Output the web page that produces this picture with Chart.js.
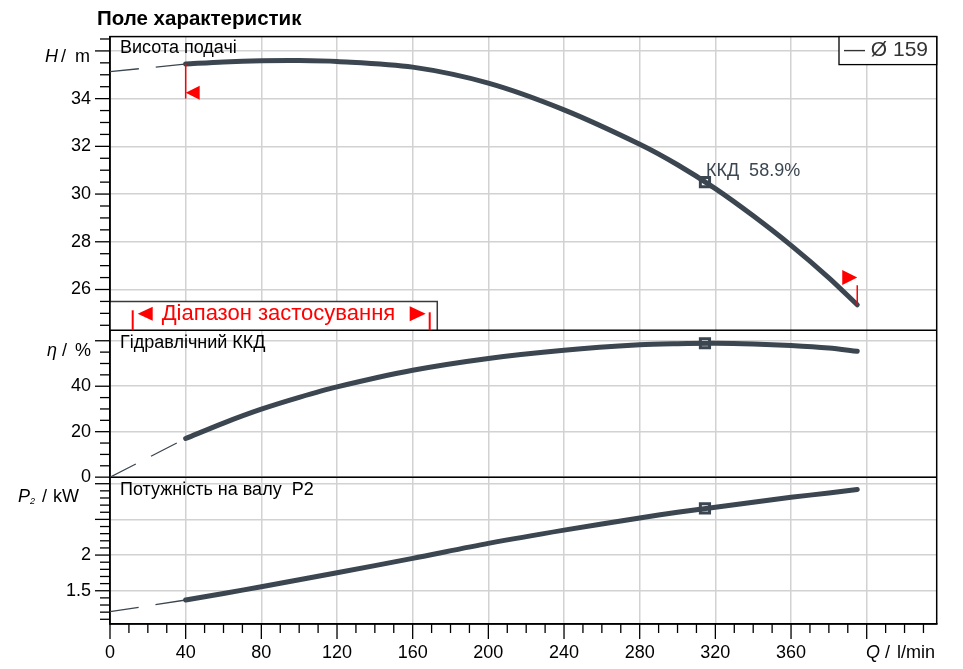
<!DOCTYPE html>
<html><head><meta charset="utf-8">
<script src="https://cdn.jsdelivr.net/npm/chart.js@4.4.1/dist/chart.umd.min.js"></script>
<style>html,body{margin:0;padding:0;background:#fff;}#wrap{width:963px;height:669px;position:relative}canvas{display:block}</style>
</head><body><div id="wrap"><canvas id="c" width="963" height="669"></canvas></div>
<script>
// ---- data ----
const flowQ   = [40, 60, 80, 100, 120, 160, 200, 240, 280, 300, 320, 340, 360, 380, 395];
const headH   = [35.45, 35.54, 35.59, 35.60, 35.56, 35.32, 34.65, 33.53, 32.09, 31.23, 30.23, 29.09, 27.85, 26.49, 25.36];
const effEta  = [17.0, 23.8, 29.9, 35.1, 39.7, 47.0, 52.2, 55.8, 58.2, 58.7, 58.9, 58.6, 57.9, 56.8, 55.4];
const powerP2 = [1.37, 1.462, 1.556, 1.654, 1.752, 1.954, 2.164, 2.35, 2.52, 2.60, 2.671, 2.74, 2.81, 2.87, 2.92];
const extQ    = [0, 40];
const extH    = [35.13, 35.45];
const extEta  = [0, 17.0];
const extP2   = [1.206, 1.37];
const bepQ = [314.5];
const bepH = [30.5];
const bepEta = [58.9];
const bepP2 = [2.654];
const bepLabel = 'ККД  58.9%';
const xTickValues = [0, 40, 80, 120, 160, 200, 240, 280, 320, 360, 400];
const xTickLabels = ['0', '40', '80', '120', '160', '200', '240', '280', '320', '360', ''];
const hTickValues = [26, 28, 30, 32, 34, 36];
const hTickLabels = ['26', '28', '30', '32', '34', ''];
const etaTickValues = [0, 20, 40, 60];
const etaTickLabels = ['0', '20', '40', ''];
const p2TickValues = [1.5, 2, 2.5, 3];
const p2TickLabels = ['1.5', '2', '', ''];
const rangeQ = [12, 169];        // application range markers (l/min)
const rangeBox = [173, 25.5];    // band box right edge (Q) and top (H)
const opMinQ = 40, opMaxQ = 395;
const legendText = '— Ø 159';
const panelTitles = ['Висота подачі', 'Гідравлічний ККД', 'Потужність на валу  P2'];
const rangeText = 'Діапазон застосування';

const FONT = '"Liberation Sans", Arial, sans-serif';
const CURVE = '#3b4651';
const GRID = '#d2d2d2';

function pts(xs, ys){ return xs.map((x,i)=>({x:x, y:ys[i]})); }

function yAxis(min, max, vals, labels, weight, stackWeight){
  return {
    type:'linear', position:'left', stack:'panels', stackWeight:stackWeight, weight:weight,
    min:min, max:max,
    afterBuildTicks:(s)=>{ s.ticks = vals.map(v=>({value:v})); },
    afterFit:(s)=>{ s.width = 110; },
    ticks:{ padding:19, color:'#000', font:{family:FONT, size:18},
      callback:(v)=>{ const i = vals.findIndex(t=>Math.abs(t-v)<1e-6); return i>=0 ? labels[i] : ''; } },
    grid:{ color:GRID, lineWidth:1.5, drawTicks:false },
    border:{ display:true, color:'#000', width:1.5 }
  };
}

function line(ctx,x1,y1,x2,y2){ ctx.beginPath(); ctx.moveTo(x1,y1); ctx.lineTo(x2,y2); ctx.stroke(); }

const deco = {
  id:'deco',
  beforeDatasetsDraw(chart){
    const ctx = chart.ctx, a = chart.chartArea;
    const sx = chart.scales.x, sh = chart.scales.yH, se = chart.scales.yEta, sp = chart.scales.yP;
    ctx.save();
    const bx1 = sx.getPixelForValue(0), bx2 = sx.getPixelForValue(rangeBox[0]);
    const by1 = sh.getPixelForValue(rangeBox[1]), by2 = sh.bottom;
    ctx.fillStyle = '#fff'; ctx.fillRect(bx1, by1, bx2-bx1, by2-by1);
    ctx.strokeStyle = '#3a3a3a'; ctx.lineWidth = 1.5;
    ctx.beginPath(); ctx.moveTo(bx1,by1); ctx.lineTo(bx2,by1); ctx.lineTo(bx2,by2); ctx.stroke();
    ctx.strokeStyle = '#000'; ctx.lineWidth = 1.5;
    ctx.strokeRect(a.left, a.top, a.right-a.left, a.bottom-a.top);
    line(ctx, a.left, sh.bottom, a.right, sh.bottom);
    line(ctx, a.left, se.bottom, a.right, se.bottom);
    ctx.lineWidth = 1.3;
    const yt = (scale, from, n, step, majors) => {
      for (let i=0;i<=n;i++){
        const v = from + i*step; const y = scale.getPixelForValue(v);
        if (y < scale.top-0.5 || y > scale.bottom+0.5) continue;
        const maj = majors.some(m=>Math.abs(m-v)<1e-6);
        line(ctx, a.left-(maj?15:10), y, a.left, y);
      }
    };
    yt(sh, 24.5, 24, 0.5, hTickValues);
    yt(se, 0, 12, 5, etaTickValues);
    yt(sp, 1.1, 19, 0.1, p2TickValues);
    for (let i=0;i<=43;i++){
      const v = i*10; const x = sx.getPixelForValue(v);
      const maj = xTickValues.includes(v);
      line(ctx, x, a.bottom, x, a.bottom+(maj?15:9));
    }
    ctx.restore();
  },
  afterDatasetsDraw(chart){
    const ctx = chart.ctx, a = chart.chartArea;
    const sx = chart.scales.x, sh = chart.scales.yH, se = chart.scales.yEta, sp = chart.scales.yP;
    ctx.save();
    ctx.strokeStyle = '#ff0000'; ctx.fillStyle = '#ff0000'; ctx.lineWidth = 1.5;
    const xl = sx.getPixelForValue(opMinQ);
    line(ctx, xl, sh.getPixelForValue(headH[0]), xl, sh.getPixelForValue(34));
    let ty = sh.getPixelForValue(34.25);
    ctx.beginPath(); ctx.moveTo(xl, ty); ctx.lineTo(xl+14, ty-7); ctx.lineTo(xl+14, ty+7); ctx.closePath(); ctx.fill();
    const xr = sx.getPixelForValue(opMaxQ);
    line(ctx, xr, sh.getPixelForValue(headH[headH.length-1]), xr, sh.getPixelForValue(26.18));
    ty = sh.getPixelForValue(26.5);
    ctx.beginPath(); ctx.moveTo(xr, ty); ctx.lineTo(xr-15, ty-7.5); ctx.lineTo(xr-15, ty+7.5); ctx.closePath(); ctx.fill();
    const r1 = sx.getPixelForValue(rangeQ[0]), r2 = sx.getPixelForValue(rangeQ[1]);
    const bandBottom = sh.bottom;
    ctx.lineWidth = 2;
    line(ctx, r1, bandBottom-20, r1, bandBottom);
    line(ctx, r2, bandBottom-18, r2, bandBottom);
    const my = bandBottom - 16.5;
    ctx.beginPath(); ctx.moveTo(r1+5, my); ctx.lineTo(r1+20, my-7); ctx.lineTo(r1+20, my+7); ctx.closePath(); ctx.fill();
    ctx.beginPath(); ctx.moveTo(r2-4, my); ctx.lineTo(r2-20, my-7.5); ctx.lineTo(r2-20, my+7.5); ctx.closePath(); ctx.fill();
    ctx.font = '22px ' + FONT; ctx.textBaseline = 'middle'; ctx.textAlign = 'left';
    ctx.fillText(rangeText, r1+29, my+0.5);
    ctx.fillStyle = '#000'; ctx.font = '18px ' + FONT;
    ctx.fillText(panelTitles[0], a.left+10, sh.top+11.5);
    ctx.fillText(panelTitles[1], a.left+10, se.top+13);
    ctx.fillText(panelTitles[2], a.left+10, sp.top+13);
    ctx.fillStyle = CURVE;
    ctx.fillText(bepLabel, sx.getPixelForValue(bepQ[0])+1, sh.getPixelForValue(bepH[0])-11.5);
    ctx.fillStyle = '#fff'; ctx.fillRect(839, a.top, a.right-839, 28);
    ctx.strokeStyle = '#000'; ctx.lineWidth = 1.3; ctx.strokeRect(839, a.top, a.right-839, 28);
    ctx.fillStyle = '#333'; ctx.font = '21px ' + FONT;
    ctx.fillText(legendText, 844, a.top+14);
    ctx.fillStyle = '#000'; ctx.font = 'bold 20.5px ' + FONT;
    ctx.fillText('Поле характеристик', 97, 19);
    const it = 'italic 18px ' + FONT, nf = '18px ' + FONT;
    const yH = sh.top + 20.5;
    ctx.font = it; ctx.fillText('H', 45, yH);
    ctx.font = nf; ctx.fillText('/', 61, yH); ctx.fillText('m', 75, yH);
    const yE = se.top + 21;
    ctx.font = it; ctx.fillText('η', 47, yE);
    ctx.font = nf; ctx.fillText('/', 62, yE); ctx.fillText('%', 75, yE);
    const yP = sp.top + 20;
    ctx.font = it; ctx.fillText('P', 18, yP);
    ctx.font = 'italic 9px ' + FONT; ctx.fillText('2', 30, yP+4);
    ctx.font = nf; ctx.fillText('/', 42, yP); ctx.fillText('kW', 53, yP);
    const yQ = a.bottom + 29;
    ctx.font = it; ctx.fillText('Q', 866, yQ);
    ctx.font = nf; ctx.fillText('/', 885, yQ); ctx.fillText('l/min', 897, yQ);
    ctx.restore();
  }
};

const curveDs = (label, ys, axis) => ({
  label, data: pts(flowQ, ys), yAxisID: axis, borderColor: CURVE, borderWidth: 5,
  pointRadius: 0, tension: 0.3, borderCapStyle: 'round', fill: false
});
const extDs = (label, ys, axis) => ({
  label, data: pts(extQ, ys), yAxisID: axis, borderColor: CURVE, borderWidth: 1.3,
  borderDash: [29, 17], pointRadius: 0, fill: false
});
const bepDs = (label, ys, axis) => ({
  label, data: pts(bepQ, ys), yAxisID: axis, showLine: false, pointStyle: 'rect',
  pointRadius: 6.5, pointBackgroundColor: '#fff', pointBorderColor: CURVE, pointBorderWidth: 3
});

new Chart(document.getElementById('c'), {
  type: 'line',
  data: { datasets: [
    extDs('H ext', extH, 'yH'), curveDs('H', headH, 'yH'), bepDs('H bep', bepH, 'yH'),
    extDs('eta ext', extEta, 'yEta'), curveDs('eta', effEta, 'yEta'), bepDs('eta bep', bepEta, 'yEta'),
    extDs('P2 ext', extP2, 'yP'), curveDs('P2', powerP2, 'yP'), bepDs('P2 bep', bepP2, 'yP')
  ]},
  options: {
    responsive: false, animation: false, devicePixelRatio: 1,
    layout: { padding: { top: 36.6, right: 26.3, left: 0, bottom: 0 } },
    plugins: { legend: { display: false }, tooltip: { enabled: false } },
    scales: {
      x: {
        type: 'linear', min: 0, max: 437,
        afterBuildTicks: (s) => { s.ticks = xTickValues.map(v => ({value: v})); },
        afterFit: (s) => { s.height = 45; },
        ticks: { padding: 18, color: '#000', maxRotation: 0, font: {family: FONT, size: 18},
          callback: (v) => { const i = xTickValues.indexOf(v); return i >= 0 ? xTickLabels[i] : ''; } },
        grid: { color: GRID, lineWidth: 1.5, drawTicks: false },
        border: { display: true, color: '#000', width: 1.5 }
      },
      yP: yAxis(1.034, 3.092, p2TickValues, p2TickLabels, 1, 1),
      yEta: yAxis(0, 64.6, etaTickValues, etaTickLabels, 2, 1),
      yH: yAxis(24.29, 36.6, hTickValues, hTickLabels, 3, 2)
    }
  },
  plugins: [deco]
});
</script>
</body></html>
